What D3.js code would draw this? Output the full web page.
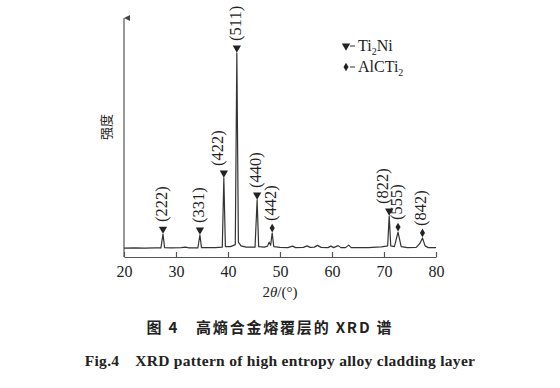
<!DOCTYPE html>
<html>
<head>
<meta charset="utf-8">
<script src="https://cdn.jsdelivr.net/npm/d3@7"></script>
<style>
  body { margin: 0; background: #fff; }
  text { font-family: "Liberation Serif", "DejaVu Serif", serif; fill: #222; }
</style>
</head>
<body>
<svg></svg>
<script>
// XRD profile: [2theta, intensity (a.u.)]
const profile = [
  [20, 36], [22, 37], [24, 36], [26, 37], [27.1, 37], [27.5, 93], [27.8, 38],
  [29, 37], [31, 38], [31.8, 40], [32.5, 37], [34.2, 37], [34.6, 89], [34.9, 38],
  [36, 38], [37.5, 38], [38.9, 40], [39.2, 320], [39.5, 42], [40.5, 42],
  [41.4, 50], [41.7, 826], [42.0, 60], [42.5, 45], [43.5, 40], [45.2, 40],
  [45.6, 231], [45.9, 42], [47, 40], [47.6, 44], [47.9, 60], [48.2, 48],
  [48.5, 97], [48.8, 42], [50, 39], [51.5, 38], [52.4, 44], [53, 38], [54.5, 39],
  [55.2, 45], [55.8, 39], [56.6, 40], [57.2, 47], [57.9, 39], [59.2, 38],
  [59.8, 44], [60.3, 38], [61.2, 46], [61.7, 38], [62.6, 38], [63.2, 48],
  [63.7, 38], [65.5, 38], [67, 38], [68.5, 40], [69.5, 41], [70.7, 45],
  [71.0, 166], [71.3, 45], [72.0, 42], [72.7, 101], [73.3, 42], [74.5, 38],
  [76.2, 39], [76.9, 55], [77.4, 77], [77.9, 45], [78.5, 38], [80, 38]
];

// indexed peaks: position, top intensity, label, phase
const peakPos = [27.5, 34.6, 39.2, 41.7, 45.6, 48.5, 71.0, 72.7, 77.4];
const peakTop = [93, 89, 320, 826, 231, 97, 166, 101, 77];
const peakHkl = ['(222)', '(331)', '(422)', '(511)', '(440)', '(442)', '(822)', '(555)', '(842)'];
const peakPhase = ['Ti2Ni', 'Ti2Ni', 'Ti2Ni', 'Ti2Ni', 'Ti2Ni', 'AlCTi2', 'Ti2Ni', 'AlCTi2', 'AlCTi2'];

const xTicks = [20, 30, 40, 50, 60, 70, 80];

const size = {w: 560, h: 388};
const plot = {l: 124, r: 436, t: 10, b: 257};

const svg = d3.select('svg')
    .attr('width', size.w)
    .attr('height', size.h);

const x = d3.scaleLinear().domain([20, 80]).range([plot.l, plot.r]);
const y = d3.scaleLinear().domain([0, 1000]).range([plot.b, plot.t]);

// arrow for the intensity axis
svg.append('defs').append('marker')
    .attr('id', 'arrow')
    .attr('viewBox', '0 0 10 10')
    .attr('refX', 5).attr('refY', 0)
    .attr('markerWidth', 6).attr('markerHeight', 10)
    .attr('markerUnits', 'userSpaceOnUse')
    .attr('orient', 'auto-start-reverse')
    .append('path')
    .attr('d', 'M0,10 L5,0 L10,10 Z')
    .attr('fill', '#444');

// x axis, ticks pointing inward
const xAxis = svg.append('g')
    .attr('transform', `translate(0,${plot.b})`)
    .call(d3.axisBottom(x).tickValues(xTicks).tickSize(-5).tickPadding(9).tickSizeOuter(0));
xAxis.select('.domain').attr('stroke', '#555').attr('stroke-width', 1.2);
xAxis.selectAll('.tick line').attr('stroke', '#555').attr('stroke-width', 1.2);
xAxis.selectAll('text')
    .style('font-family', '"Liberation Serif", serif')
    .style('font-size', '16px')
    .attr('fill', '#222');

// y axis: bare arrow line
svg.append('line')
    .attr('x1', plot.l).attr('x2', plot.l)
    .attr('y1', plot.b).attr('y2', plot.t + 8)
    .attr('stroke', '#555').attr('stroke-width', 1.2)
    .attr('marker-end', 'url(#arrow)');

svg.append('text')
    .attr('transform', `translate(107,127) rotate(-90)`)
    .attr('text-anchor', 'middle')
    .attr('dominant-baseline', 'middle')
    .style('font-family', '"Noto Sans CJK SC", sans-serif')
    .style('font-size', '13px')
    .attr('fill', '#666')
    .text('强度');

const xl = svg.append('text')
    .attr('x', 280).attr('y', 297)
    .attr('text-anchor', 'middle')
    .style('font-size', '15px');
xl.append('tspan').text('2');
xl.append('tspan').style('font-style', 'italic').text('θ');
xl.append('tspan').text('/(°)');

// pattern
const line = d3.line().x(d => x(d[0])).y(d => y(d[1]));
svg.append('path')
    .datum(profile)
    .attr('d', line)
    .attr('fill', 'none')
    .attr('stroke', '#333')
    .attr('stroke-width', 1.2)
    .attr('stroke-linejoin', 'round');

// peak markers and labels
const triangle = d3.symbol().type(d3.symbolTriangle).size(30);
const diamond = d3.symbol().type(d3.symbolDiamond).size(22);

const peaks = peakPos.map((p, i) => ({pos: p, top: peakTop[i], hkl: peakHkl[i], phase: peakPhase[i]}));

const pg = svg.selectAll('g.peak')
    .data(peaks)
    .enter()
    .append('g')
    .classed('peak', true)
    .attr('transform', d => `translate(${x(d.pos)},${y(d.top) - 5})`);

pg.append('path')
    .attr('d', d => d.phase === 'Ti2Ni' ? triangle() : diamond())
    .attr('transform', d => d.phase === 'Ti2Ni' ? 'rotate(180)' : null)
    .attr('fill', '#222');

// nudge a label left when the next peak sits close by
pg.append('text')
    .attr('transform', (d, i) => {
      const crowded = i < peaks.length - 1 && x(peaks[i + 1].pos) - x(d.pos) < 14;
      return `translate(${crowded ? -5 : 0},-7) rotate(-90)`;
    })
    .attr('dominant-baseline', 'middle')
    .style('font-size', '16.5px')
    .text(d => d.hkl);

// legend
const legend = [
  {phase: 'Ti2Ni', main: 'Ti', sub: '2', rest: 'Ni'},
  {phase: 'AlCTi2', main: 'AlCTi', sub: '2', rest: ''}
];
const lg = svg.selectAll('g.legend')
    .data(legend)
    .enter()
    .append('g')
    .classed('legend', true)
    .attr('transform', (d, i) => `translate(346,${46 + i * 21})`);

lg.append('path')
    .attr('d', d => d.phase === 'Ti2Ni' ? triangle() : diamond())
    .attr('transform', d => d.phase === 'Ti2Ni' ? 'rotate(180)' : null)
    .attr('fill', '#222');
lg.append('line')
    .attr('x1', 4).attr('x2', 9).attr('y1', 0).attr('y2', 0)
    .attr('stroke', '#333');
const lt = lg.append('text')
    .attr('x', 12).attr('y', 5)
    .style('font-size', '16px');
lt.append('tspan').text(d => d.main);
lt.append('tspan').attr('dy', 4).style('font-size', '10px').text(d => d.sub);
lt.append('tspan').attr('dy', -4).text(d => d.rest);

// caption
svg.append('text')
    .attr('x', 270).attr('y', 333)
    .attr('text-anchor', 'middle')
    .style('font-family', '"Noto Sans CJK SC", sans-serif')
    .style('font-weight', 'bold')
    .style('font-size', '15px')
    .style('letter-spacing', '1.8px')
    .attr('fill', '#111')
    .text('图 4\u2003高熵合金熔覆层的 XRD 谱');

svg.append('text')
    .attr('x', 280).attr('y', 366)
    .attr('text-anchor', 'middle')
    .style('font-weight', 'bold')
    .style('font-size', '15.5px')
    .style('letter-spacing', '0.3px')
    .attr('fill', '#111')
    .text('Fig.4\u2003XRD pattern of high entropy alloy cladding layer');
</script>
</body>
</html>
